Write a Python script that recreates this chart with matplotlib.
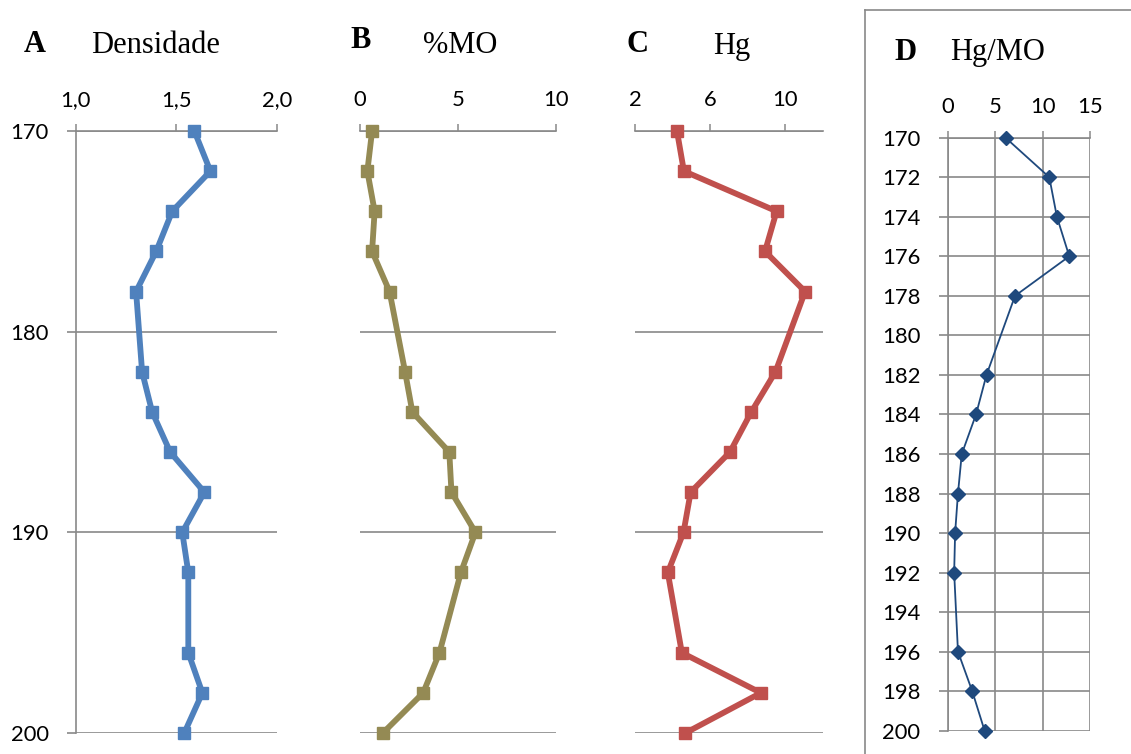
import matplotlib
matplotlib.use('Agg')
import matplotlib.pyplot as plt
from matplotlib.lines import Line2D

# profundidade (cm) e variaveis de cada painel
depth = [170, 172, 174, 176, 178, 182, 184, 186, 188, 190, 192, 196, 198, 200]
densidade = [1.59, 1.67, 1.48, 1.40, 1.30, 1.33, 1.38, 1.47, 1.64, 1.53, 1.56, 1.56, 1.63, 1.54]
mo = [0.64, 0.40, 0.77, 0.64, 1.53, 2.32, 2.69, 4.57, 4.68, 5.90, 5.16, 4.07, 3.24, 1.19]
hg = [4.23, 4.60, 9.55, 8.93, 11.07, 9.49, 8.20, 7.06, 4.96, 4.58, 3.74, 4.49, 8.71, 4.68]
hg_mo = [6.1, 10.7, 11.5, 12.8, 7.1, 4.1, 3.0, 1.5, 1.1, 0.8, 0.7, 1.1, 2.6, 3.9]

dens_ticks = [1.0, 1.5, 2.0]
dens_labels = ['1,0', '1,5', '2,0']
mo_ticks = [0, 5, 10]
hg_ticks = [2, 6, 10]
hgmo_ticks = [0, 5, 10, 15]

W, H = 1131, 754
GRID = '#898989'
TICKFONT = 'Lato'
TITLEFONT = 'Liberation Serif'

fig = plt.figure(figsize=(W / 100, H / 100), dpi=100)


def box(x0, x1, y0, y1):
    return [x0 / W, 1 - y1 / H, (x1 - x0) / W, (y1 - y0) / H]


def setup(ax, xlim, xticks, xlabels, yticks, show_y, xgrid=False, ypad=13):
    ax.set_xlim(*xlim)
    ax.set_ylim(200, 170)
    ax.xaxis.tick_top()
    ax.set_xticks(xticks)
    ax.set_xticklabels(xlabels, fontsize=15.8, family=TICKFONT)
    ax.set_yticks(yticks)
    ax.tick_params(axis='x', direction='out', length=5, width=1.1, color=GRID, pad=10)
    for s in ['bottom', 'right']:
        ax.spines[s].set_visible(False)
    ax.spines['top'].set_color(GRID)
    ax.spines['top'].set_linewidth(1.2)
    ax.spines['left'].set_color(GRID)
    ax.spines['left'].set_linewidth(1.2)
    if show_y:
        ax.set_yticklabels([str(v) for v in yticks], fontsize=15.8, family=TICKFONT)
        ax.tick_params(axis='y', direction='out', length=6.5, width=1.2, color=GRID, pad=ypad)
    else:
        ax.spines['left'].set_visible(False)
        ax.tick_params(axis='y', length=0, labelleft=False)
    ax.yaxis.grid(True, color=GRID, lw=1.2)
    if xgrid:
        ax.xaxis.grid(True, color=GRID, lw=1.2)
    ax.set_axisbelow(True)


axA = fig.add_axes(box(75.8, 276.7, 131, 733))
setup(axA, (1.0, 2.0), dens_ticks, dens_labels, [170, 180, 190, 200], True)
axA.plot(densidade, depth, color='#4F81BD', lw=4.2, marker='s', ms=8.5, clip_on=False, zorder=3)

axB = fig.add_axes(box(359.5, 556, 131, 733))
setup(axB, (0, 10), mo_ticks, [str(v) for v in mo_ticks], [170, 180, 190, 200], False)
axB.plot(mo, depth, color='#948A54', lw=4.2, marker='s', ms=8.5, clip_on=False, zorder=3)

axC = fig.add_axes(box(635.2, 822.5, 131, 733))
setup(axC, (2, 12), hg_ticks, [str(v) for v in hg_ticks], [170, 180, 190, 200], False)
axC.plot(hg, depth, color='#C0504D', lw=4.2, marker='s', ms=8.5, clip_on=False, zorder=3)

axD = fig.add_axes(box(947.5, 1090.2, 137.7, 730.7))
setup(axD, (0, 15), hgmo_ticks, [str(v) for v in hgmo_ticks], list(range(170, 201, 2)), True,
      xgrid=True, ypad=13)
axD.plot(hg_mo, depth, color='#1F497D', lw=1.3, marker='D', ms=7.4, clip_on=False, zorder=3)

# moldura do painel D
fig.add_artist(Line2D([865 / W, 1.0], [1 - 10 / H, 1 - 10 / H], color=GRID, lw=1.2))
fig.add_artist(Line2D([865 / W, 865 / W], [0, 1 - 10 / H], color=GRID, lw=1.2))

# titulos
titles = [(24, 52, 'A', True), (91, 53, 'Densidade', False),
          (350, 48.5, 'B', True), (423, 53, '%MO', False),
          (627, 52.5, 'C', True), (713, 54, 'Hg', False),
          (894, 60, 'D', True), (950, 60, 'Hg/MO', False)]
for x, y, t, bold in titles:
    fig.text(x / W, 1 - y / H, t, fontsize=22, family=TITLEFONT,
             fontweight='bold' if bold else 'normal', va='baseline', ha='left')

fig.savefig('out.png', dpi=100)
